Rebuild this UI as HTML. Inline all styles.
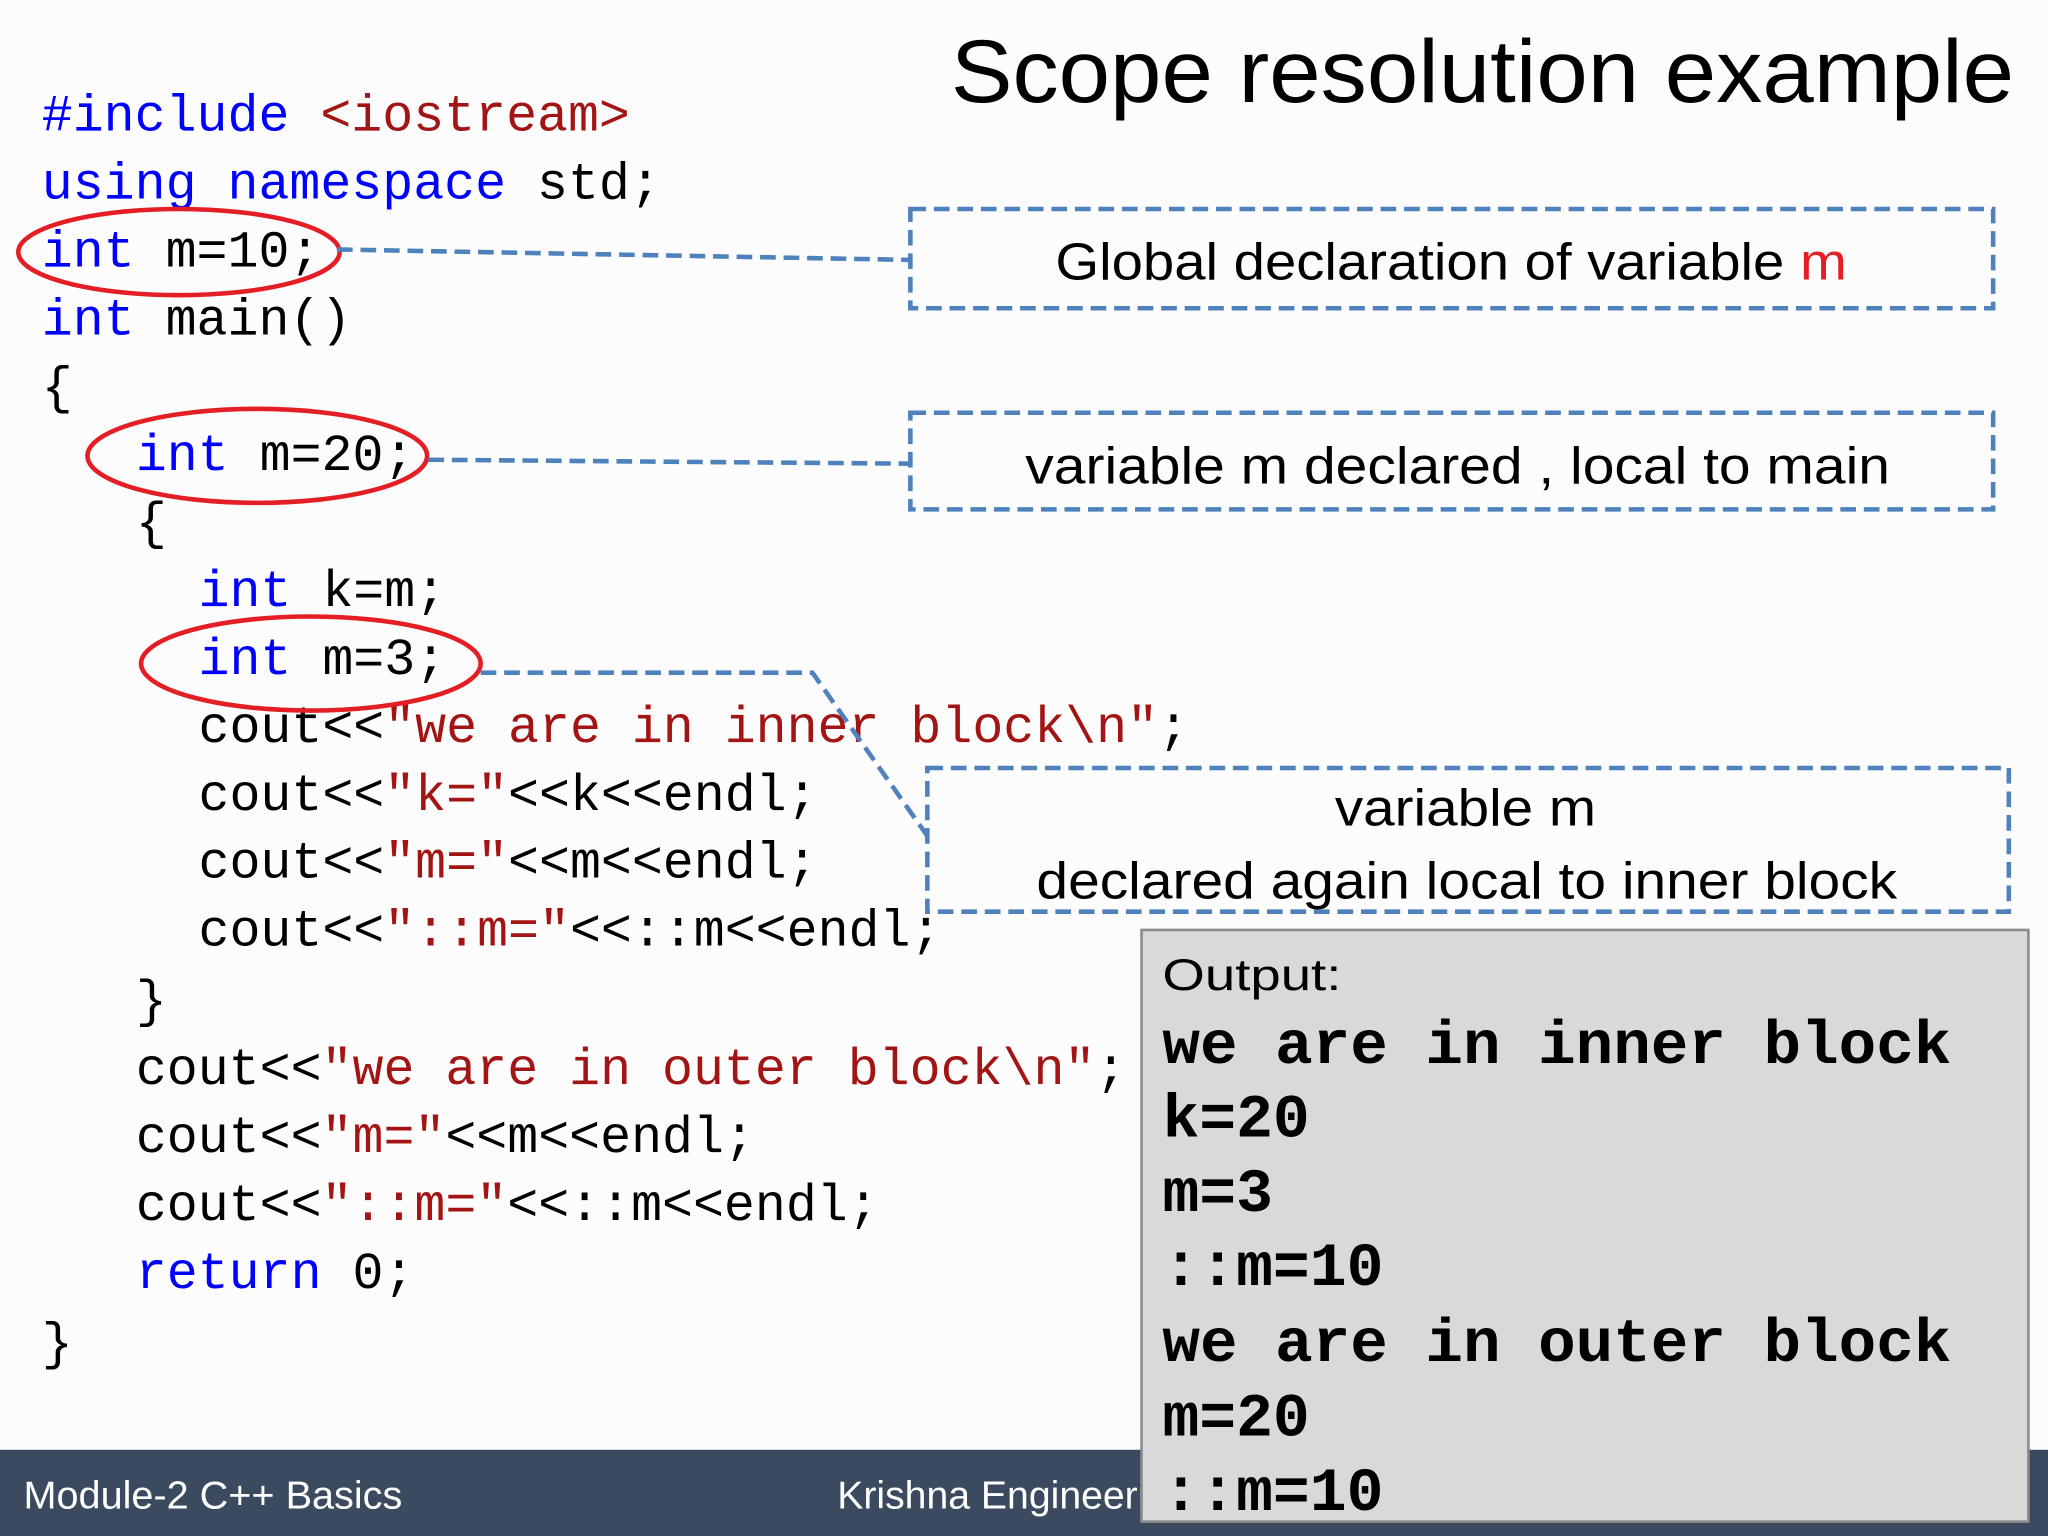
<!DOCTYPE html>
<html><head><meta charset="utf-8"><style>
html,body{margin:0;padding:0;background:#fff;width:2048px;height:1536px;overflow:hidden}
svg{display:block}
.c{font-family:"Liberation Mono",monospace;font-size:39.5px;fill:#000;white-space:pre}
.k{fill:#0000ff}.s{fill:#a31515}
.sa{font-family:"Liberation Sans",sans-serif}
.o{font-family:"Liberation Mono",monospace;font-weight:bold;font-size:47px;fill:#000}
</style></head><body>
<svg width="2048" height="1536" viewBox="0 0 1568 1176" xmlns="http://www.w3.org/2000/svg">
<rect width="1568" height="1176" fill="#fcfcfc"/>
<text class="sa" x="728" y="78" font-size="68" textLength="814" lengthAdjust="spacingAndGlyphs">Scope resolution example</text>
<g class="c">
<text x="32" y="100"><tspan class="k">#include</tspan> <tspan class="s">&lt;iostream&gt;</tspan></text>
<text x="32" y="152"><tspan class="k">using namespace</tspan> std;</text>
<text x="32" y="204"><tspan class="k">int</tspan> m=10;</text>
<text x="32" y="256"><tspan class="k">int</tspan> main()</text>
<text x="32" y="308">{</text>
<text x="104" y="360"><tspan class="k">int</tspan> m=20;</text>
<text x="104" y="412">{</text>
<text x="152" y="464"><tspan class="k">int</tspan> k=m;</text>
<text x="152" y="516"><tspan class="k">int</tspan> m=3;</text>
<text x="152" y="568">cout&lt;&lt;<tspan class="s">"we are in inner block\n"</tspan>;</text>
<text x="152" y="620">cout&lt;&lt;<tspan class="s">"k="</tspan>&lt;&lt;k&lt;&lt;endl;</text>
<text x="152" y="672">cout&lt;&lt;<tspan class="s">"m="</tspan>&lt;&lt;m&lt;&lt;endl;</text>
<text x="152" y="724">cout&lt;&lt;<tspan class="s">"::m="</tspan>&lt;&lt;::m&lt;&lt;endl;</text>
<text x="104" y="778">}</text>
<text x="104" y="830">cout&lt;&lt;<tspan class="s">"we are in outer block\n"</tspan>;</text>
<text x="104" y="882">cout&lt;&lt;<tspan class="s">"m="</tspan>&lt;&lt;m&lt;&lt;endl;</text>
<text x="104" y="934">cout&lt;&lt;<tspan class="s">"::m="</tspan>&lt;&lt;::m&lt;&lt;endl;</text>
<text x="104" y="986"><tspan class="k">return</tspan> 0;</text>
<text x="32" y="1040">}</text>
</g>
<g fill="none" stroke="#e31e24" stroke-width="3.5">
<ellipse cx="137" cy="193" rx="123" ry="33"/>
<ellipse cx="197" cy="349" rx="130" ry="36"/>
<ellipse cx="238" cy="508" rx="130" ry="36"/>
</g>
<g fill="none" stroke="#4f81bd" stroke-width="3.5" stroke-dasharray="12,6">
<rect x="697" y="160" width="829" height="76"/>
<rect x="697" y="316" width="829" height="74"/>
<rect x="710" y="588" width="828" height="110"/>
<polyline points="258,191 697,199"/>
<polyline points="328,352 697,355"/>
<polyline points="368,515 622,515 710,640"/>
</g>
<g class="sa" font-size="40" text-anchor="middle">
<text x="1111" y="214" textLength="606" lengthAdjust="spacingAndGlyphs">Global declaration of variable <tspan fill="#e31e24">m</tspan></text>
<text x="1116" y="370" textLength="662" lengthAdjust="spacingAndGlyphs">variable m declared , local to main</text>
<text x="1122" y="632" textLength="200" lengthAdjust="spacingAndGlyphs">variable m</text>
<text x="1123" y="688" textLength="659" lengthAdjust="spacingAndGlyphs">declared again local to inner block</text>
</g>
<rect x="0" y="1110" width="1568" height="66" fill="#3b4a5e"/>
<text class="sa" x="18" y="1155" font-size="30" fill="#fff" textLength="290" lengthAdjust="spacingAndGlyphs">Module-2 C++ Basics</text>
<text class="sa" x="641" y="1155" font-size="30" fill="#fff">Krishna Engineering College</text>
<rect x="874" y="712" width="679" height="453" fill="#d9d9d9" stroke="#8c8c8c" stroke-width="2"/>
<text class="sa" x="890" y="758" font-size="34" textLength="137" lengthAdjust="spacingAndGlyphs">Output:</text>
<g class="o">
<text x="890" y="814" textLength="604" lengthAdjust="spacingAndGlyphs">we are in inner block</text>
<text x="890" y="870">k=20</text>
<text x="890" y="927">m=3</text>
<text x="890" y="984">::m=10</text>
<text x="890" y="1042" textLength="604" lengthAdjust="spacingAndGlyphs">we are in outer block</text>
<text x="890" y="1099">m=20</text>
<text x="890" y="1156">::m=10</text>
</g>
</svg>
</body></html>
